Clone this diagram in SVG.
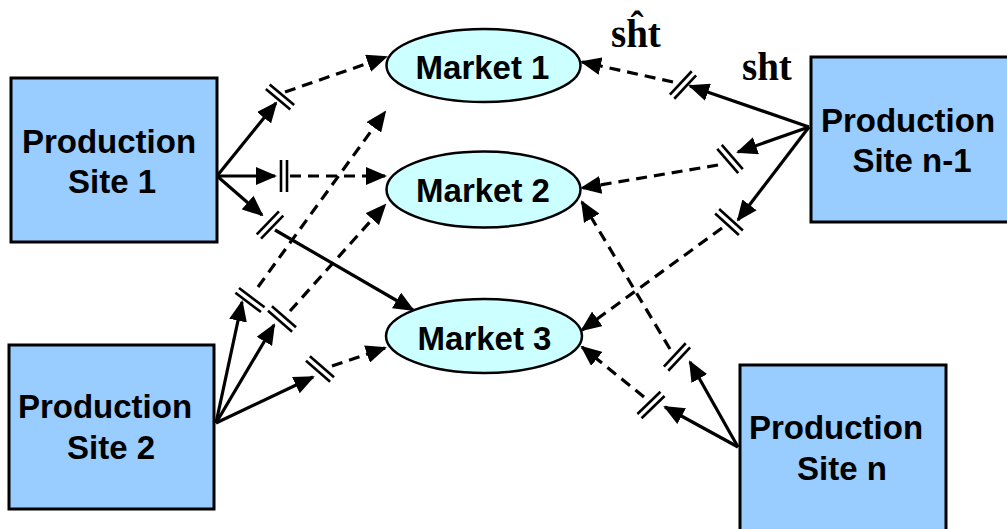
<svg xmlns="http://www.w3.org/2000/svg" xmlns:xlink="http://www.w3.org/1999/xlink" width="1007" height="529" viewBox="0 0 1007 529">
  <style>
    .site { fill: #99CCFF; stroke: #000; stroke-width: 3; }
    .market { fill: #CCFFFF; stroke: #000; stroke-width: 2.5; }
    .lbl { font-family: "Liberation Sans", Arial, sans-serif; font-weight: bold; font-size: 33px; fill: #000; text-anchor: middle; }
    .var { font-family: "Liberation Serif", "Times New Roman", serif; font-weight: bold; font-size: 39px; fill: #000; }
    .solid { fill: none; stroke: #000; stroke-width: 3.2; marker-end: url(#arrow); }
    .dash { fill: none; stroke: #000; stroke-width: 3.2; stroke-dasharray: 11 7; marker-end: url(#arrow); }
    .brk { stroke: #000; stroke-width: 2.6; fill: none; }
  </style>
  <defs>
    <marker id="arrow" markerUnits="userSpaceOnUse" markerWidth="21" markerHeight="18" refX="19" refY="9" orient="auto">
      <path d="M0,0 L21,9 L0,18 z" fill="#000"/>
    </marker>
    <!-- break symbol: two short parallel strokes across a link -->
    <g id="brk" class="brk">
      <line x1="-3" y1="-16" x2="-3" y2="16"/>
      <line x1="3" y1="-16" x2="3" y2="16"/>
    </g>
  </defs>

  <rect width="1007" height="529" fill="#fff"/>

  <g id="connectors">
    <!-- Production Site 1 -->
    <path class="solid" d="M217,176 L276,103"/>
    <use xlink:href="#brk" transform="translate(280,97) rotate(-50)"/>
    <path class="dash" d="M285,92 L386,57"/>

    <path class="solid" d="M217,176 L275,176"/>
    <use xlink:href="#brk" transform="translate(284,176)"/>
    <path class="dash" d="M290,176 L385,176"/>

    <path class="solid" d="M217,176 L262,215"/>
    <use xlink:href="#brk" transform="translate(270,225) rotate(44)"/>
    <path class="solid" d="M275,230 L413,310"/>

    <!-- Production Site 2 -->
    <path class="solid" d="M216,423 L242,302"/>
    <use xlink:href="#brk" transform="translate(250,300) rotate(-53)"/>
    <path class="dash" d="M258,287 L385,112"/>

    <path class="solid" d="M216,423 L274,325"/>
    <use xlink:href="#brk" transform="translate(282,319) rotate(-49)"/>
    <path class="dash" d="M290,311 L385,205"/>

    <path class="solid" d="M216,423 L313,377"/>
    <use xlink:href="#brk" transform="translate(320,369) rotate(-49)"/>
    <path class="dash" d="M332,366 L385,348"/>

    <!-- Production Site n-1 -->
    <path class="solid" d="M809,127 L690,86"/>
    <use xlink:href="#brk" transform="translate(683,85) rotate(43)"/>
    <path class="dash" d="M673,82 L582,62"/>

    <path class="solid" d="M809,127 L738,152"/>
    <use xlink:href="#brk" transform="translate(730,159) rotate(-41)"/>
    <path class="dash" d="M718,165 L582,188"/>

    <path class="solid" d="M809,127 L738,220"/>
    <use xlink:href="#brk" transform="translate(729,222) rotate(-48)"/>
    <path class="dash" d="M722,228 L582,330"/>

    <!-- Production Site n -->
    <path class="solid" d="M738,447 L690,362"/>
    <use xlink:href="#brk" transform="translate(677,357) rotate(43)"/>
    <path class="dash" d="M670,349 L582,202"/>

    <path class="solid" d="M738,447 L665,407"/>
    <use xlink:href="#brk" transform="translate(651,405) rotate(46)"/>
    <path class="dash" d="M644,397 L582,347"/>
  </g>

  <g id="site1">
    <rect class="site" x="11" y="78" width="206" height="164"/>
    <text class="lbl" x="109" y="153">Production</text>
    <text class="lbl" x="112" y="193">Site 1</text>
  </g>
  <g id="site2">
    <rect class="site" x="9" y="345" width="205" height="164"/>
    <text class="lbl" x="105" y="418">Production</text>
    <text class="lbl" x="111" y="459">Site 2</text>
  </g>
  <g id="siteN1">
    <rect class="site" x="811" y="57" width="200" height="165"/>
    <text class="lbl" x="908" y="132">Production</text>
    <text class="lbl" x="912" y="172">Site n-1</text>
  </g>
  <g id="siteN">
    <rect class="site" x="740" y="365" width="206" height="170"/>
    <text class="lbl" x="836" y="439">Production</text>
    <text class="lbl" x="842" y="480">Site n</text>
  </g>

  <g id="market1">
    <ellipse class="market" cx="483.5" cy="65.5" rx="97" ry="36.5"/>
    <text class="lbl" x="482.5" y="79">Market 1</text>
  </g>
  <g id="market2">
    <ellipse class="market" cx="483.5" cy="189.5" rx="97" ry="38"/>
    <text class="lbl" x="483" y="202">Market 2</text>
  </g>
  <g id="market3">
    <ellipse class="market" cx="484" cy="336" rx="98" ry="37"/>
    <text class="lbl" x="484.5" y="350">Market 3</text>
  </g>

  <g id="labels">
    <text class="var" x="611" y="47">sĥt</text>
    <text class="var" x="742" y="80">sht</text>
  </g>
</svg>
